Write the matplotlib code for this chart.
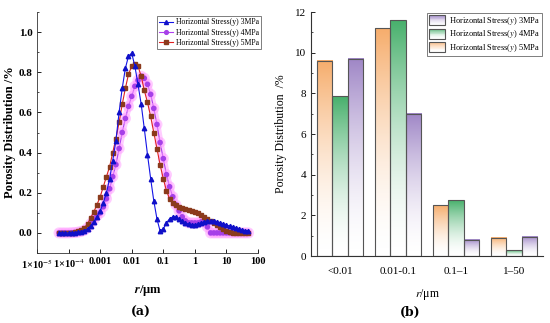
import numpy as np
import matplotlib
matplotlib.use("Agg")
import matplotlib.pyplot as plt
import matplotlib.patheffects as pe
from matplotlib.colors import LinearSegmentedColormap, to_rgb
from matplotlib.patches import Rectangle
from matplotlib.legend_handler import HandlerBase
from matplotlib.ticker import LogLocator, MultipleLocator, NullFormatter

plt.rcParams['font.family'] = ['Liberation Serif', 'DejaVu Serif']
plt.rcParams['mathtext.fontset'] = 'stix'

# ---- (a) pore size distribution curves ----
r_um = [5.0e-5, 6.3e-5, 7.9e-5, 1.0e-4, 1.26e-4, 1.58e-4, 2.0e-4, 2.5e-4, 3.16e-4, 3.98e-4,
        5.0e-4, 6.3e-4, 7.9e-4, 1.0e-3, 1.26e-3, 1.58e-3, 2.0e-3, 2.5e-3, 3.16e-3, 3.98e-3,
        5.0e-3, 6.3e-3, 7.9e-3, 1.0e-2, 1.26e-2, 1.58e-2, 2.0e-2, 2.5e-2, 3.16e-2, 3.98e-2,
        5.0e-2, 6.3e-2, 7.9e-2, 0.1, 0.126, 0.158, 0.2, 0.25, 0.316, 0.398,
        0.5, 0.63, 0.79, 1.0, 1.26, 1.58, 2.0, 2.5, 3.16, 3.98,
        5.0, 6.3, 7.9, 10.0, 12.6, 15.8, 20.0, 25.0, 31.6, 39.8, 50.0]

stress_3 = [0.0, 0.0, 0.0, 0.0, 0.001, 0.002, 0.004, 0.007, 0.012, 0.020,
            0.035, 0.055, 0.080, 0.11, 0.15, 0.20, 0.27, 0.36, 0.46, 0.60,
            0.72, 0.82, 0.88, 0.895, 0.83, 0.74, 0.64, 0.52, 0.39, 0.27,
            0.16, 0.07, 0.01, 0.02, 0.05, 0.07, 0.08, 0.08, 0.07, 0.06,
            0.05, 0.045, 0.04, 0.04, 0.045, 0.05, 0.055, 0.06, 0.06, 0.058,
            0.055, 0.05, 0.045, 0.04, 0.035, 0.03, 0.025, 0.02, 0.015, 0.012, 0.01]

stress_4 = [0.0, 0.0, 0.0, 0.0, 0.001, 0.002, 0.004, 0.007, 0.013, 0.025,
            0.045, 0.065, 0.085, 0.10, 0.13, 0.17, 0.22, 0.28, 0.34, 0.42,
            0.50, 0.57, 0.63, 0.68, 0.73, 0.76, 0.78, 0.77, 0.74, 0.69,
            0.62, 0.54, 0.45, 0.37, 0.29, 0.23, 0.18, 0.14, 0.11, 0.08,
            0.06, 0.05, 0.05, 0.05, 0.05, 0.055, 0.055, 0.03, 0.0, 0.0,
            0.0, 0.0, 0.0, 0.0, 0.0, 0.0, 0.0, 0.0, 0.0, 0.0, 0.0]

stress_5 = [0.0, 0.0, 0.0, 0.001, 0.002, 0.004, 0.008, 0.014, 0.025, 0.045,
            0.075, 0.105, 0.14, 0.18, 0.23, 0.28, 0.33, 0.40, 0.47, 0.55,
            0.64, 0.72, 0.79, 0.83, 0.84, 0.83, 0.78, 0.71, 0.65, 0.58,
            0.50, 0.42, 0.34, 0.27, 0.21, 0.17, 0.15, 0.14, 0.13, 0.125,
            0.12, 0.115, 0.11, 0.105, 0.10, 0.09, 0.08, 0.07, 0.06, 0.05,
            0.04, 0.03, 0.02, 0.01, 0.005, 0.002, 0.0, 0.0, 0.0, 0.0, 0.0]

xtick_vals = [1e-5, 1e-4, 1e-3, 1e-2, 1e-1, 1, 10, 100]
xtick_labels = ['1×10$^{-5}$', '1×10$^{-4}$', '0.001', '0.01', '0.1', '1', '10', '100']

# ---- (b) binned porosity ----
bins = ['<0.01', '0.01-0.1', '0.1–1', '1–50']
bar_5 = [9.6, 11.2, 2.5, 0.9]
bar_4 = [7.85, 11.6, 2.75, 0.28]
bar_3 = [9.7, 7.0, 0.8, 0.95]

fig = plt.figure(figsize=(5.5, 3.23), dpi=100)

# ---------------- panel (a) ----------------
ax1 = fig.add_axes([37/550, 1-253/323, 221/550, 241/323])
halo = [pe.Stroke(linewidth=5, foreground='#ff9cff', alpha=0.5), pe.Normal()]
l3, = ax1.plot(r_um, stress_3, color='#1414e6', lw=0.8, marker='^', ms=3.2,
               mec='#1010c8', mfc='#1010c8', label='Horizontal Stress(y) 3MPa', zorder=4)
l4, = ax1.plot(r_um, stress_4, color='#b040f0', lw=0.8, marker='o', ms=3.0,
               mec='#a640e8', mfc='#a640e8', label='Horizontal Stress(y) 4MPa', zorder=2,
               path_effects=halo)
l5, = ax1.plot(r_um, stress_5, color='#e02020', lw=0.8, marker='s', ms=2.8,
               mec='#8b3a1c', mfc='#8b3a1c', label='Horizontal Stress(y) 5MPa', zorder=3)

ax1.set_xscale('log')
ax1.set_xlim(1e-5, 100)
ax1.set_ylim(-0.1, 1.1)
ax1.set_xticks(xtick_vals)
ax1.set_xticklabels(xtick_labels, fontweight='bold', fontsize=7.5)
ax1.xaxis.set_minor_locator(LogLocator(base=10, subs=np.arange(2, 10)))
ax1.xaxis.set_minor_formatter(NullFormatter())
ax1.set_yticks([0.0, 0.2, 0.4, 0.6, 0.8, 1.0])
ax1.set_yticklabels(['0.0', '0.2', '0.4', '0.6', '0.8', '1.0'], fontweight='bold', fontsize=8)
ax1.yaxis.set_minor_locator(MultipleLocator(0.1))
ax1.tick_params(which='major', direction='in', length=3, width=0.6, pad=3)
ax1.tick_params(which='minor', direction='in', length=1.6, width=0.5)
for s in ['top', 'right']:
    ax1.spines[s].set_visible(False)
for s in ['left', 'bottom']:
    ax1.spines[s].set_linewidth(0.6)
    ax1.spines[s].set_color('#333333')

ax1.set_ylabel('Porosity Distribution /%', fontweight='bold', fontsize=9, labelpad=2)
ax1.set_xlabel('$\\mathbfit{r}$/μm', fontweight='bold', fontsize=9, labelpad=9)

leg1 = ax1.legend(handles=[l3, l4, l5], loc='upper right',
                  bbox_to_anchor=(261/550, 1-16/323), bbox_transform=fig.transFigure,
                  borderaxespad=0, fontsize=5.6, frameon=True, fancybox=False,
                  handlelength=1.7, labelspacing=0.3, borderpad=0.3, handletextpad=0.4,
                  markerscale=0.9)
leg1.get_frame().set_edgecolor('#444444')
leg1.get_frame().set_linewidth(0.6)
for h in leg1.get_lines():
    h.set_path_effects([])

fig.text(141/550, 1-312/323, '(a)', ha='center', va='center', fontsize=9,
         fontweight='bold', family='DejaVu Serif')

# ---------------- panel (b) ----------------
ax2 = fig.add_axes([311/550, 1-256/323, 232/550, 244/323])
xpos = np.arange(len(bins))
width = 0.27
series = [(bar_5, -width, '#f6ad6c', 'Horizontal Stress($\\it{y}$) 5MPa'),
          (bar_4, 0.0, '#48b06c', 'Horizontal Stress($\\it{y}$) 4MPa'),
          (bar_3, width, '#9f86c6', 'Horizontal Stress($\\it{y}$) 3MPa')]

# colour strongest at the top of each bar, fading to white at the base
grad = (np.linspace(0, 1, 256) ** 1.7).reshape(-1, 1)
handles = {}
for vals, off, col, lab in series:
    cmap = LinearSegmentedColormap.from_list('g', ['#ffffff', col])
    for x, v in zip(xpos + off, vals):
        ax2.imshow(grad, extent=[x - width/2, x + width/2, 0, v], origin='lower',
                   cmap=cmap, vmin=0, vmax=1, aspect='auto', zorder=2,
                   interpolation='bilinear')
    ax2.bar(xpos + off, vals, width, fill=False, edgecolor='#555555',
            linewidth=0.8, zorder=3)
    handles[lab] = Rectangle((0, 0), 1, 1, facecolor=col, label=lab)

ax2.set_xlim(-0.5, 3.5)
ax2.set_ylim(0, 12)
ax2.set_xticks(xpos)
ax2.set_xticklabels(bins, fontsize=8)
ax2.set_yticks([0, 2, 4, 6, 8, 10, 12])
ax2.set_yticklabels(['0', '2', '4', '6', '8', '10', '12'], fontsize=8)
ax2.yaxis.set_minor_locator(MultipleLocator(1))
ax2.tick_params(axis='x', which='both', length=0, pad=8)
ax2.tick_params(axis='y', which='major', direction='in', length=3, width=0.6)
ax2.tick_params(axis='y', which='minor', direction='in', length=1.6, width=0.5)
for s in ['top', 'right']:
    ax2.spines[s].set_visible(False)
for s in ['left', 'bottom']:
    ax2.spines[s].set_linewidth(0.8)
    ax2.spines[s].set_color('#333333')
ax2.set_ylabel('Porosity Distribution  /%', fontsize=8.5, labelpad=6)
ax2.set_xlabel('$\\it{r}$/μm', fontsize=8.5, labelpad=8)


class GradHandler(HandlerBase):
    def create_artists(self, legend, orig_handle, xdescent, ydescent, width, height,
                       fontsize, trans):
        col = np.array(to_rgb(orig_handle.get_facecolor()))
        n = 12
        arts = []
        for i in range(n):
            f = ((i + 0.5) / n) ** 1.7
            c = (1 - f) * np.ones(3) + f * col
            arts.append(Rectangle((-xdescent, -ydescent + i * height / n), width,
                                  height / n, facecolor=c, edgecolor='none', transform=trans))
        arts.append(Rectangle((-xdescent, -ydescent), width, height, fill=False,
                              edgecolor='#555555', linewidth=0.8, transform=trans))
        return arts


order = ['Horizontal Stress($\\it{y}$) 3MPa', 'Horizontal Stress($\\it{y}$) 4MPa',
         'Horizontal Stress($\\it{y}$) 5MPa']
leg2 = ax2.legend(handles=[handles[k] for k in order], loc='upper right',
                  bbox_to_anchor=(542/550, 1-13/323), bbox_transform=fig.transFigure,
                  borderaxespad=0, handler_map={Rectangle: GradHandler()}, fontsize=6,
                  fancybox=False, handlelength=2.0, handleheight=1.5, labelspacing=0.15,
                  borderpad=0.25, handletextpad=0.4)
leg2.get_frame().set_edgecolor('#444444')
leg2.get_frame().set_linewidth(0.6)

fig.text(410/550, 1-312/323, '(b)', ha='center', va='center', fontsize=9,
         fontweight='bold', family='DejaVu Serif')

fig.savefig('out.png', dpi=100)
